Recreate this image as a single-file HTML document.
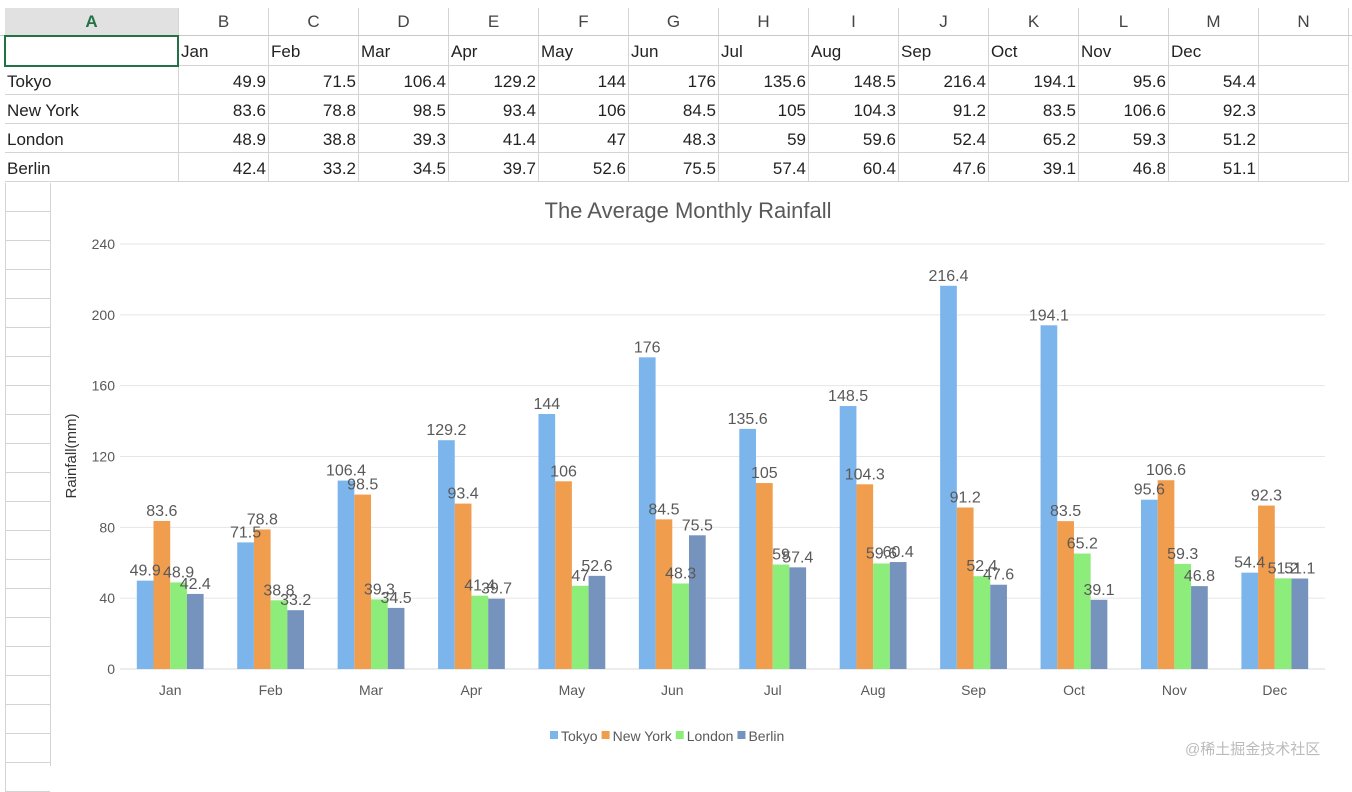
<!DOCTYPE html>
<html><head><meta charset="utf-8"><style>
body{margin:0;width:1352px;height:766px;overflow:hidden;background:#fff;font-family:"Liberation Sans","Noto Sans CJK SC",sans-serif;position:relative}
.abs{position:absolute}
.colh{position:absolute;top:8px;height:27px;line-height:27px;text-align:center;font-size:17px;color:#444;border-right:1px solid #d4d4d4;box-sizing:border-box}
.cell{position:absolute;height:29px;line-height:31px;font-size:17px;color:#222;border-right:1px solid #d4d4d4;border-bottom:1px solid #d4d4d4;box-sizing:border-box;padding:0 2px;white-space:nowrap;overflow:hidden}
</style></head><body>
<div id="sheet"></div>
<div class="abs" style="left:50px;top:183px;width:1302px;height:583px;border-left:1px solid #d4d4d4;background:#fff"></div>
<svg id="chart" class="abs" style="left:0;top:0" width="1352" height="766"></svg>
<div class="abs" style="left:1185px;top:738px;font-size:15px;color:#bbb">@稀土掘金技术社区</div>
<script>
const months=["Jan","Feb","Mar","Apr","May","Jun","Jul","Aug","Sep","Oct","Nov","Dec"];
const seriesNames=["Tokyo","New York","London","Berlin"];
const tokyo=[49.9,71.5,106.4,129.2,144,176,135.6,148.5,216.4,194.1,95.6,54.4];
const newYork=[83.6,78.8,98.5,93.4,106,84.5,105,104.3,91.2,83.5,106.6,92.3];
const london=[48.9,38.8,39.3,41.4,47,48.3,59,59.6,52.4,65.2,59.3,51.2];
const berlin=[42.4,33.2,34.5,39.7,52.6,75.5,57.4,60.4,47.6,39.1,46.8,51.1];
const yTicks=[0,40,80,120,160,200,240];
const colors=["#7cb5ec","#f09d4d","#8ded7a","#7693bd"];
const allSeries=[tokyo,newYork,london,berlin];

// spreadsheet
const sheet=document.getElementById('sheet');
const letters=["A","B","C","D","E","F","G","H","I","J","K","L","M","N"];
function colX(i){return i===0?5:179+(i-1)*90;}
function colW(i){return i===0?174:90;}
const hdrBg=document.createElement('div');hdrBg.className='abs';
hdrBg.style.cssText='left:0;top:8px;width:1352px;height:27px;border-bottom:1px solid #c8c8c8';


sheet.appendChild(hdrBg);
letters.forEach((l,i)=>{
 const d=document.createElement('div');d.className='colh';
 d.style.left=colX(i)+'px';d.style.width=colW(i)+'px';d.textContent=l;
 if(i===0){d.style.background='#e1e1e1';d.style.color='#217346';d.style.fontWeight='bold';}
 
 
 sheet.appendChild(d);
});
const rows=[[""].concat(months),["Tokyo"].concat(tokyo),["New York"].concat(newYork),["London"].concat(london),["Berlin"].concat(berlin)];
const rowTops=[36,66,95,124,153];
rows.forEach((r,ri)=>{
 for(let ci=0;ci<14;ci++){
  const d=document.createElement('div');d.className='cell';
  d.style.left=colX(ci)+'px';d.style.width=colW(ci)+'px';d.style.top=rowTops[ri]+'px';
  d.style.height=(ri===0?30:29)+'px';
  const v=r[ci];
  if(v!==undefined){d.textContent=v;if(typeof v==='number')d.style.textAlign='right';}
  
  
  sheet.appendChild(d);
 }
});
const sel=document.createElement('div');sel.className='abs';
sel.style.cssText='left:4px;top:35px;width:171px;height:28px;border:2px solid #217346';


sheet.appendChild(sel);
for(let y=183;y<766;y+=29){const d=document.createElement('div');d.className='abs';
 d.style.cssText='left:5px;top:'+y+'px;width:45px;height:29px;border-bottom:1px solid #d4d4d4;border-left:1px solid #d4d4d4;box-sizing:border-box';
 
 
 sheet.appendChild(d);}

// chart
const svg=document.getElementById('chart');
const NS='http://www.w3.org/2000/svg';
const x0=120,x1=1325,y0=669,yTop=244,yMax=240;
const cw=(x1-x0)/months.length,bw=16.7;
function yS(v){return y0-(v/yMax)*(y0-yTop);}
function el(t,a,txt){const e=document.createElementNS(NS,t);for(const k in a)e.setAttribute(k,a[k]);if(txt!==undefined)e.textContent=txt;svg.appendChild(e);return e;}
const title=el('text',{x:688,y:218,'text-anchor':'middle','font-size':22,fill:'#595959'},'The Average Monthly Rainfall');


yTicks.forEach(t=>{
 const g=el('line',{x1:x0,x2:x1,y1:yS(t),y2:yS(t),stroke:t===0?'#d9d9d9':'#e6e6e6','stroke-width':1});
 
 
 const l=el('text',{x:115,y:yS(t)+5,'text-anchor':'end','font-size':14,fill:'#595959'},t);
 
 
});
const yt=el('text',{x:0,y:0,transform:'translate(76,456) rotate(-90)','text-anchor':'middle','font-size':15,fill:'#333'},'Rainfall(mm)');


months.forEach((m,i)=>{
 const cx=x0+cw*(i+0.5);
 const t=el('text',{x:cx,y:695,'text-anchor':'middle','font-size':14,fill:'#595959'},m);
 
 
 allSeries.forEach((s,si)=>{
  const bx=cx-2*bw+si*bw;
  const r=el('rect',{x:bx,y:yS(s[i]),width:bw,height:y0-yS(s[i]),fill:colors[si]});
  
  
 });
 allSeries.forEach((s,si)=>{
  const bx=cx-2*bw+si*bw;
  const lt=el('text',{x:bx+bw/2,y:yS(s[i])-5,'text-anchor':'middle','font-size':16,fill:'#595959'},s[i]);
  
  
 });
});
let lx=550;
seriesNames.forEach((n,si)=>{
 const r=el('rect',{x:lx,y:731,width:8,height:8,fill:colors[si]});
 
 
 const t=el('text',{x:lx+11,y:741,'font-size':14,fill:'#595959'},n);
 
 
 lx+=11+t.getComputedTextLength()+4;
});
</script>
</body></html>
